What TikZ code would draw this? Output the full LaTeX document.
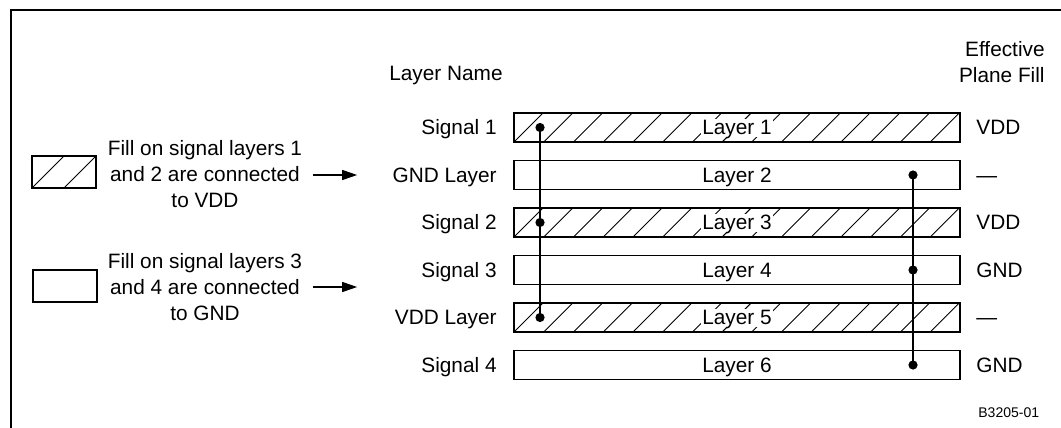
\documentclass[tikz,border=0pt]{standalone}
\usepackage{fontspec}
\setmainfont{Liberation Sans}
\usetikzlibrary{arrows.meta,calc,positioning}
\tikzset{
  layerbox/.style   = { draw, line width=0.6pt, minimum width=223pt,
                        minimum height=14.5pt, inner sep=0pt },
  legendbox/.style  = { draw, line width=0.6pt, minimum width=32pt,
                        minimum height=16pt, inner sep=0pt },
  % diagonal fill, one stroke per #1 of width
  hatched/.style    = { path picture={
      \foreach \k in {0,...,16}
        \draw[line width=0.45pt]
          ([xshift=\k*#1]path picture bounding box.south west) -- ++(#1,#1);
    } },
  caps/.style       = { text height=7.4pt, text depth=0pt },
  layertext/.style  = { caps, fill=white, inner sep=0.8pt },
  layername/.style  = { caps, anchor=east, inner sep=0pt },
  planefill/.style  = { caps, anchor=west, inner sep=0pt },
  legendtext/.style = { align=center, inner sep=0pt },
  via/.style        = { circle, fill, inner sep=0pt, minimum size=4.6pt },
  feed/.style       = { -{Triangle[length=7.5pt,width=5pt]}, line width=0.6pt,
                        shorten <=5pt, shorten >=17.5pt },
}
\begin{document}
\begin{tikzpicture}
  [x=0.5pt, y=-0.5pt,
  font=\fontsize{10.4}{13}\selectfont]
  \useasboundingbox (0,0) rectangle (1061,428);
  % frame, open to the right and below
  \draw[line width=1.25pt] (11,428) |- (1061,10);

  % column heads
  \node[caps] (namehead) at (446,73) {Layer Name};
  \node[align=right, anchor=east, inner sep=0pt] (fillhead) at (1045,62)
    {Effective\\Plane Fill};

  % the stack, top to bottom
  \foreach \name/\plane [count=\i] in {Signal 1/VDD, GND Layer/\textemdash,
      Signal 2/VDD, Signal 3/GND, VDD Layer/\textemdash, Signal 4/GND} {
    \node[layerbox] (layer\i) at (737,80+47.5*\i) {};
    \ifodd\i
      \path[hatched=14.865pt] (layer\i.south west) rectangle (layer\i.north east);
    \fi
    \node[layertext] (tag\i) at (layer\i) {Layer \i};
    \node[layername] (name\i) at (497,80+47.5*\i) {\name};
    \node[planefill] (fill\i) at (976,80+47.5*\i) {\plane};
  }

  %% vias tying the signal fills to their planes
  \coordinate (viaL) at (540,0);
  \coordinate (viaR) at (913,0);
  \foreach \i in {1,3,5}
    \node[via] (pinL\i) at (viaL |- layer\i) {};
  \foreach \i in {2,4,6}
    \node[via] (pinR\i) at (viaR |- layer\i) {};
  \draw[line width=0.6pt] (pinL1.center) -- (pinL5.center);
  \draw[line width=0.6pt] (pinR2.center) -- (pinR6.center);

  % legend
  \node[legendbox] (keyvdd) at (64,172) {};
  \path[hatched=16pt] (keyvdd.south west) rectangle (keyvdd.north east);
  \node[legendbox] (keygnd) at (65,286) {};
  \node[legendtext] (notevdd) at (205,174)
    {Fill on signal layers 1\\and 2 are connected\\to VDD};
  \node[legendtext] (notegnd) at (205,287)
    {Fill on signal layers 3\\and 4 are connected\\to GND};
  \draw[feed] (notevdd.east |- name2) -- (name2.west);
  \draw[feed] (notegnd.east) -- (notegnd.east -| name2.west);

  \node[font=\fontsize{7}{8}\selectfont, anchor=base west, inner sep=0pt]
    (figid) at (978,417) {B3205-01};
\end{tikzpicture}
\end{document}
